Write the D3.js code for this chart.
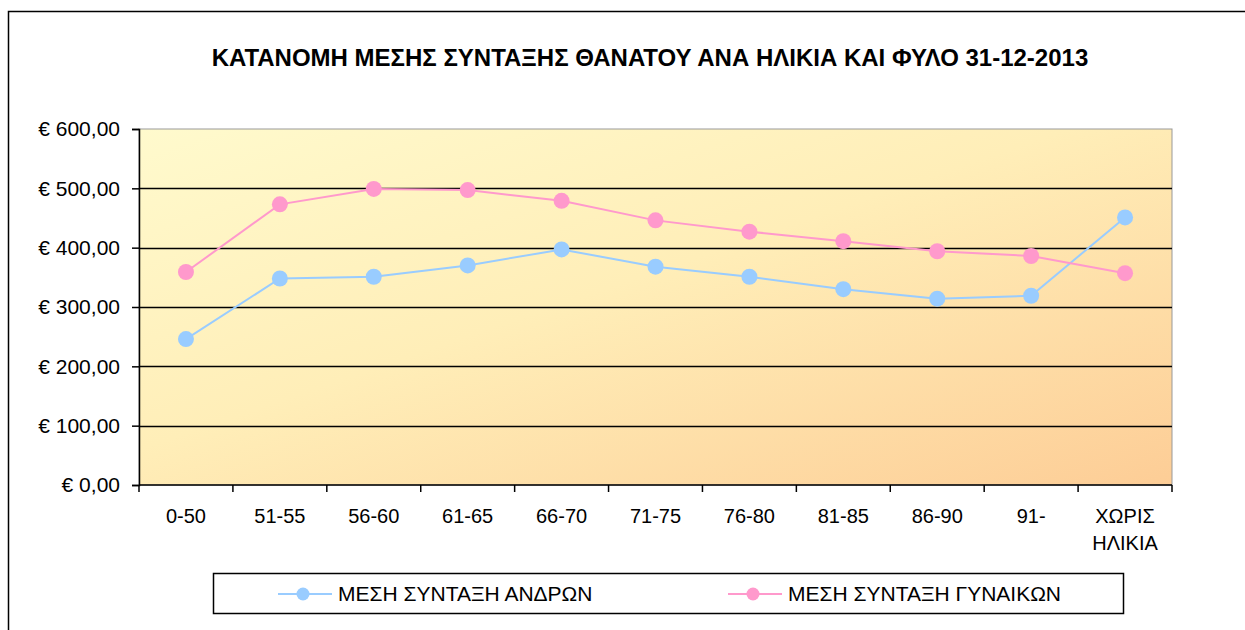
<!DOCTYPE html>
<html>
<head>
<meta charset="utf-8">
<script src="https://cdn.jsdelivr.net/npm/d3@7"></script>
<style>
  body { margin: 0; background: #fff; }
  text { font-family: "Liberation Sans", Arial, sans-serif; fill: #000; }
</style>
</head>
<body>
<div id="chart"></div>
<script>
var categories = ["0-50", "51-55", "56-60", "61-65", "66-70", "71-75", "76-80", "81-85", "86-90", "91-", "ΧΩΡΙΣ ΗΛΙΚΙΑ"]
var menValues = [246, 348, 351, 370, 397, 368, 351, 330, 314, 319, 451]
var womenValues = [359, 473, 499, 497, 479, 446, 427, 411, 394, 386, 357]
var yTicks = [0, 100, 200, 300, 400, 500, 600]
var seriesNames = ["ΜΕΣΗ ΣΥΝΤΑΞΗ ΑΝΔΡΩΝ", "ΜΕΣΗ ΣΥΝΤΑΞΗ ΓΥΝΑΙΚΩΝ"]
var seriesColors = ["#99ccff", "#ff99cc"]

var width = 1245, height = 630
var plot = {left: 139, top: 129, right: 1172, bottom: 485}

var svg = d3.select("#chart").append("svg")
  .attr("width", width)
  .attr("height", height)

// outer chart border
svg.append("rect")
  .attr("x", 8.5).attr("y", 11.5)
  .attr("width", 1245).attr("height", 630)
  .attr("fill", "#fff").attr("stroke", "#000").attr("stroke-width", 1.5)

var grad = svg.append("defs").append("linearGradient")
  .attr("id", "bg").attr("x1", "0%").attr("y1", "0%").attr("x2", "100%").attr("y2", "100%")
grad.append("stop").attr("offset", "0%").attr("stop-color", "#fffacd")
grad.append("stop").attr("offset", "45%").attr("stop-color", "#ffeeb8")
grad.append("stop").attr("offset", "100%").attr("stop-color", "#fdcd96")

var x = d3.scaleBand().domain(categories).range([plot.left, plot.right])
var y = d3.scaleLinear().domain([0, 600]).range([plot.bottom, plot.top])

svg.append("rect")
  .attr("x", plot.left).attr("y", plot.top)
  .attr("width", plot.right - plot.left).attr("height", plot.bottom - plot.top)
  .attr("fill", "url(#bg)").attr("stroke", "#999").attr("stroke-width", 1)

// gridlines
svg.append("g").selectAll("line").data(yTicks.filter(d => d > 0 && d < 600))
  .enter().append("line")
  .attr("x1", plot.left).attr("x2", plot.right)
  .attr("y1", d => Math.round(y(d)) + 0.5).attr("y2", d => Math.round(y(d)) + 0.5)
  .attr("stroke", "#000").attr("stroke-width", 1.5)

// y axis
var fmt = d => "€ " + d3.format(".2f")(d).replace(".", ",")
var yAxis = svg.append("g")
  .attr("transform", "translate(" + plot.left + ",0)")
  .call(d3.axisLeft(y).tickValues(yTicks).tickFormat(fmt).tickSize(7).tickPadding(12))
yAxis.select(".domain").attr("stroke", "#000").attr("stroke-width", 1.5)
yAxis.selectAll(".tick line").attr("stroke", "#000").attr("stroke-width", 1.5)
yAxis.selectAll("text").attr("font-size", 21).attr("fill", "#000")
  .attr("font-family", "Liberation Sans, Arial, sans-serif")

// x axis: ticks between categories
var xEdges = categories.map(c => x(c)).concat([plot.right])
var xAxisG = svg.append("g")
xAxisG.append("line")
  .attr("x1", plot.left).attr("x2", plot.right)
  .attr("y1", plot.bottom).attr("y2", plot.bottom)
  .attr("stroke", "#000").attr("stroke-width", 1.5)
xAxisG.selectAll(".xt").data(xEdges).enter().append("line")
  .attr("x1", d => d).attr("x2", d => d)
  .attr("y1", plot.bottom).attr("y2", plot.bottom + 7)
  .attr("stroke", "#000").attr("stroke-width", 1.5)

xAxisG.selectAll(".xl").data(categories).enter().append("text")
  .attr("x", d => x(d) + x.bandwidth() / 2)
  .attr("y", 523)
  .attr("text-anchor", "middle")
  .attr("font-size", 20)
  .each(function(d) {
    var parts = d.split(" ")
    var t = d3.select(this)
    parts.forEach(function(p, i) {
      t.append("tspan").attr("x", x(d) + x.bandwidth() / 2).attr("dy", i ? 27 : 0).text(p)
    })
  })

// series
var series = [menValues, womenValues]
var line = d3.line()
  .x((d, i) => x(categories[i]) + x.bandwidth() / 2)
  .y(d => y(d))

series.forEach(function(vals, s) {
  var g = svg.append("g")
  g.append("path").datum(vals)
    .attr("d", line)
    .attr("fill", "none")
    .attr("stroke", seriesColors[s])
    .attr("stroke-width", 2)
  g.selectAll("circle").data(vals).enter().append("circle")
    .attr("cx", (d, i) => x(categories[i]) + x.bandwidth() / 2)
    .attr("cy", d => y(d))
    .attr("r", 8)
    .attr("fill", seriesColors[s])
})

// title
svg.append("text")
  .attr("x", 650).attr("y", 66)
  .attr("text-anchor", "middle")
  .attr("font-size", 24).attr("font-weight", "bold")
  .text("ΚΑΤΑΝΟΜΗ ΜΕΣΗΣ ΣΥΝΤΑΞΗΣ ΘΑΝΑΤΟΥ ΑΝΑ ΗΛΙΚΙΑ ΚΑΙ ΦΥΛΟ 31-12-2013")

// legend
var legend = svg.append("g")
legend.append("rect")
  .attr("x", 213.5).attr("y", 573.5).attr("width", 910).attr("height", 40)
  .attr("fill", "#fff").attr("stroke", "#000").attr("stroke-width", 1.5)
var legendX = [278, 728]
seriesNames.forEach(function(name, i) {
  var lx = legendX[i]
  legend.append("line")
    .attr("x1", lx).attr("x2", lx + 54).attr("y1", 594).attr("y2", 594)
    .attr("stroke", seriesColors[i]).attr("stroke-width", 2)
  legend.append("circle")
    .attr("cx", lx + 25).attr("cy", 594).attr("r", 6.5)
    .attr("fill", seriesColors[i])
  legend.append("text")
    .attr("x", lx + 60).attr("y", 601)
    .attr("font-size", 21)
    .text(name)
})
</script>
</body>
</html>
